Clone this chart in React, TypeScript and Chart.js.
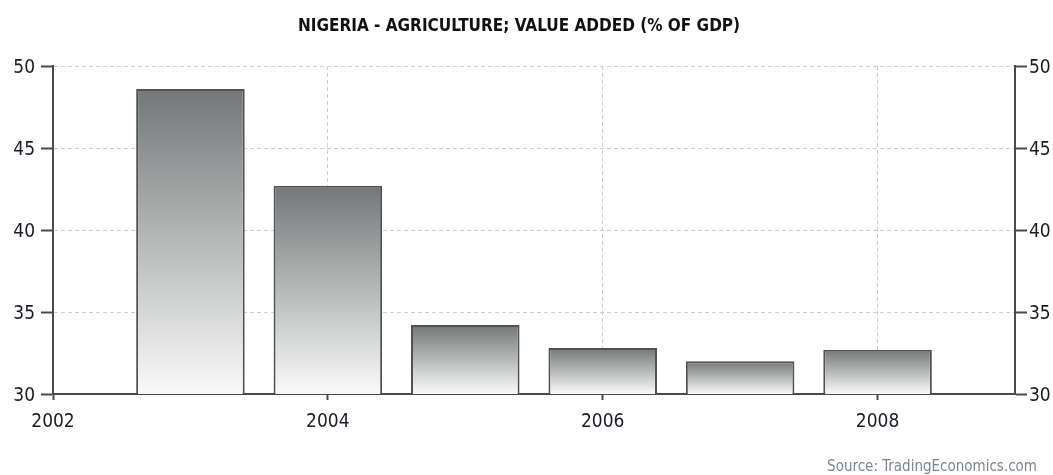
import React, { useEffect, useRef } from "react";
import { Chart, registerables } from "chart.js";

Chart.register(...registerables);

const TITLE = "NIGERIA - AGRICULTURE; VALUE ADDED (% OF GDP)";
const SOURCE = "Source: TradingEconomics.com";
const years = [2003, 2004, 2005, 2006, 2007, 2008];
const values = [48.6, 42.7, 34.2, 32.8, 32.0, 32.7];
const yTicks = [30, 35, 40, 45, 50];
const xTicks = [2002, 2004, 2006, 2008];

const FONT = "'DejaVu Sans Condensed', 'DejaVu Sans', sans-serif";
const TEXT = "#1c1c24";
const AXIS = "#4a4a4a";
const GRID = "#cfcfcf";

export default function App() {
  const ref = useRef<HTMLCanvasElement | null>(null);

  useEffect(() => {
    document.body.style.margin = "0";
    if (!ref.current) return;

    const textPlugin = {
      id: "titleAndSource",
      afterDraw(chart: any) {
        const c = chart.ctx;
        c.save();
        c.font = `bold 17px ${FONT}`;
        c.fillStyle = "#111";
        c.textAlign = "center";
        c.textBaseline = "middle";
        c.fillText(TITLE, 519, 27);
        c.font = `15px ${FONT}`;
        c.fillStyle = "#7a8691";
        c.textAlign = "right";
        c.textBaseline = "alphabetic";
        c.fillText(SOURCE, 1037, 471);
        c.restore();
      },
    };

    const chart = new Chart(ref.current, {
      type: "bar",
      data: {
        datasets: [
          {
            data: years.map((x, i) => ({ x, y: values[i] })),
            backgroundColor: (ctx: any) => {
              const ch = ctx.chart;
              const area = ch.chartArea;
              if (!area || ctx.type !== "data") return "#a0a3a3";
              const top = ch.scales.y.getPixelForValue(values[ctx.dataIndex]);
              const g = ch.ctx.createLinearGradient(0, top, 0, area.bottom);
              g.addColorStop(0, "#737777");
              g.addColorStop(1, "#fafafa");
              return g;
            },
            borderColor: "#505353",
            borderWidth: 2,
            borderSkipped: false,
            barPercentage: 0.79,
            categoryPercentage: 1,
          },
        ],
      },
      options: {
        animation: false,
        responsive: true,
        maintainAspectRatio: false,
        layout: { padding: { left: 0, right: 0, top: 66, bottom: 0 } },
        plugins: {
          legend: { display: false },
          tooltip: { enabled: false },
          title: { display: false },
        },
        scales: {
          x: {
            type: "linear",
            offset: false,
            min: 2002,
            max: 2009,
            afterFit: (s: any) => {
              s.height = 81;
            },
            afterBuildTicks: (s: any) => {
              s.ticks = xTicks.map((v) => ({ value: v }));
            },
            ticks: {
              stepSize: 2,
              includeBounds: false,
              color: TEXT,
              font: { family: FONT, size: 19 },
              padding: 11,
              maxRotation: 0,
              callback: (v: any) => String(v),
            },
            grid: {
              offset: false,
              color: GRID,
              lineWidth: 1,
              tickLength: 6,
              tickColor: AXIS,
              tickWidth: 2,
            },
            border: { display: true, color: AXIS, width: 2, dash: [4, 3] },
          },
          y: {
            position: "left",
            min: 30,
            max: 50,
            afterFit: (s: any) => {
              s.width = 53;
            },
            afterBuildTicks: (s: any) => {
              s.ticks = yTicks.map((v) => ({ value: v }));
            },
            ticks: {
              stepSize: 5,
              color: TEXT,
              font: { family: FONT, size: 19 },
              padding: 6,
              labelOffset: 2,
            },
            grid: {
              color: GRID,
              lineWidth: 1,
              tickLength: 12,
              tickColor: AXIS,
              tickWidth: 2,
            },
            border: { display: true, color: AXIS, width: 2, dash: [4, 3] },
          },
          y2: {
            position: "right",
            min: 30,
            max: 50,
            afterFit: (s: any) => {
              s.width = 38;
            },
            afterBuildTicks: (s: any) => {
              s.ticks = yTicks.map((v) => ({ value: v }));
            },
            ticks: {
              stepSize: 5,
              color: TEXT,
              font: { family: FONT, size: 19 },
              padding: 2,
              labelOffset: 2,
            },
            grid: {
              drawOnChartArea: false,
              tickLength: 12,
              tickColor: AXIS,
              tickWidth: 2,
            },
            border: { display: true, color: AXIS, width: 2 },
          },
        },
      },
      plugins: [textPlugin],
    } as any);

    return () => chart.destroy();
  }, []);

  return (
    <div style={{ width: 1053, height: 475, position: "relative" }}>
      <canvas ref={ref} />
    </div>
  );
}
